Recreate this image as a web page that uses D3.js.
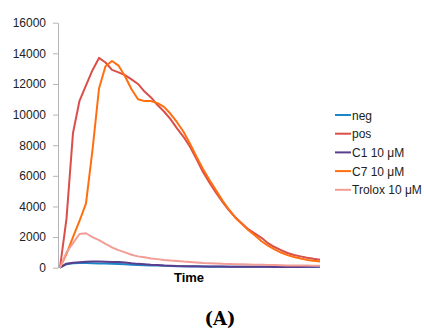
<!DOCTYPE html>
<html>
<head>
<meta charset="utf-8">
<script src="https://cdn.jsdelivr.net/npm/d3@7"></script>
<style>
  body { margin: 0; background: #fff; }
  svg { display: block; }
</style>
</head>
<body>
<svg id="chart" width="424" height="329"></svg>
<script>
// time points (arbitrary units, the x axis carries no numbers)
let times = d3.range(0, 41)

let neg = [0, 230, 290, 300, 300, 290, 280, 270, 260, 240, 220, 200, 180, 160, 150, 140, 130, 110, 100, 90,
    85, 80, 75, 70, 70, 65, 60, 60, 60, 55, 55, 60, 70, 60, 50, 50, 60, 70, 60, 50, 60]
let pos = [0, 3200, 8800, 10900, 11900, 12900, 13700, 13400, 12920, 12760, 12580, 12300, 12000, 11500, 11120,
    10620, 10200, 9700, 9100, 8550, 7900, 7100, 6250, 5550, 4900, 4300, 3750, 3280, 2880, 2500, 2230, 1950,
    1600, 1350, 1150, 960, 830, 740, 650, 580, 520]
let c1 = [0, 260, 330, 360, 390, 410, 400, 390, 380, 370, 340, 290, 250, 230, 200, 180, 150, 130, 110, 100,
    95, 90, 85, 80, 80, 75, 70, 70, 65, 60, 60, 55, 55, 50, 50, 45, 45, 50, 60, 70, 80]
let c7 = [0, 900, 2000, 3050, 4200, 7700, 11700, 13150, 13500, 13200, 12500, 11650, 11000, 10880, 10880,
    10750, 10500, 10050, 9500, 8880, 8100, 7250, 6450, 5720, 5050, 4380, 3800, 3250, 2850, 2450, 2100, 1730,
    1440, 1200, 990, 820, 700, 600, 510, 450, 410]
let trolox = [0, 1000, 1600, 2200, 2250, 2000, 1800, 1550, 1320, 1150, 1000, 850, 740, 680, 600, 560, 510,
    470, 440, 400, 370, 340, 310, 290, 270, 250, 240, 230, 220, 210, 200, 190, 180, 170, 160, 150, 150, 140,
    140, 130, 130]

let seriesNames = ["neg", "pos", "C1 10 μM", "C7 10 μM", "Trolox 10 μM"]
let seriesValues = [neg, pos, c1, c7, trolox]
let seriesColors = ["#1b87c6", "#d94f4a", "#5b3d8d", "#ff6f10", "#f29d96"]
let yTicks = [0, 2000, 4000, 6000, 8000, 10000, 12000, 14000, 16000]

let svg = d3.select("#chart")

let xScale = d3.scaleLinear()
    .domain([0, 40])
    .range([60, 320])

let yScale = d3.scaleLinear()
    .domain([0, 16000])
    .range([267.7, 22.7])

// y axis
let yAxis = svg.append("g")
    .attr("transform", "translate(58,0)")
    .call(d3.axisLeft(yScale)
        .tickValues(yTicks)
        .tickFormat(d3.format("d"))
        .tickSize(5)
        .tickPadding(7)
        .tickSizeOuter(0))
yAxis.select(".domain").attr("stroke", "#b5b5b5")
yAxis.selectAll(".tick line").attr("stroke", "#b5b5b5")
yAxis.selectAll("text")
    .style("font-family", "'Liberation Sans', Arial, sans-serif")
    .style("font-size", "12px")
    .attr("fill", "#222")

let line = d3.line()
    .x((d, i) => xScale(times[i]))
    .y(d => yScale(d))

svg.selectAll(".series")
    .data(seriesValues)
    .join("path")
    .attr("class", "series")
    .attr("d", d => line(d))
    .attr("fill", "none")
    .attr("stroke", (d, i) => seriesColors[i])
    .attr("stroke-width", 2)
    .attr("stroke-linejoin", "round")

// legend
let legend = svg.selectAll(".legend")
    .data(seriesNames)
    .join("g")
    .attr("class", "legend")
    .attr("transform", (d, i) => "translate(335," + (115 + i * 18.7) + ")")
legend.append("line")
    .attr("x1", 0).attr("x2", 16)
    .attr("stroke", (d, i) => seriesColors[i])
    .attr("stroke-width", 2)
legend.append("text")
    .attr("x", 17)
    .attr("y", 4.5)
    .style("font-family", "'Liberation Sans', Arial, sans-serif")
    .style("font-size", "12px")
    .attr("fill", "#222")
    .text(d => d)

// x axis title
svg.append("text")
    .attr("x", 189)
    .attr("y", 282)
    .attr("text-anchor", "middle")
    .style("font-family", "'Liberation Sans', Arial, sans-serif")
    .style("font-size", "13px")
    .style("font-weight", "bold")
    .text("Time")

// panel label
svg.append("text")
    .attr("x", 220)
    .attr("y", 325)
    .attr("text-anchor", "middle")
    .style("font-family", "'DejaVu Serif', serif")
    .style("font-size", "18px")
    .style("font-weight", "bold")
    .text("(A)")
</script>
</body>
</html>
